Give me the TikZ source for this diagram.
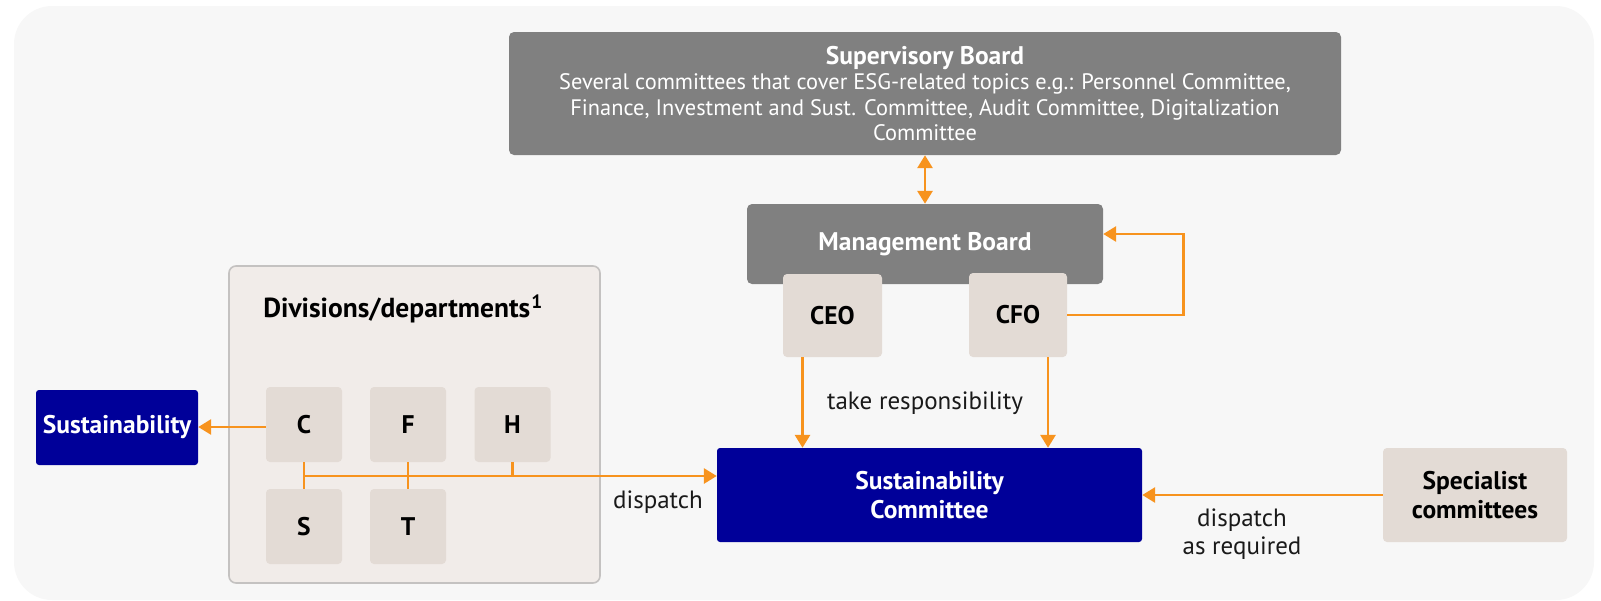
\documentclass[tikz,border=0pt]{standalone}
\usepackage{fontspec}
\setmainfont{PT Sans}
\usepackage{xcolor}
\usepackage{tikz}
\usetikzlibrary{arrows.meta,positioning}
\definecolor{bgGray}{HTML}{F7F7F7}
\definecolor{boardGray}{HTML}{808080}
\definecolor{roleBeige}{HTML}{E3DBD5}
\definecolor{divFill}{HTML}{F1ECE9}
\definecolor{divLine}{HTML}{C4C2C1}
\definecolor{sustNavy}{HTML}{000099}
\definecolor{arrOrange}{HTML}{F7931E}
\definecolor{txtDark}{HTML}{1A1A1A}
\newcommand{\boldfont}{\fontsize{25.5}{28.5}\selectfont\bfseries}

\begin{document}
\begin{tikzpicture}[x=1pt, y=-1pt, font=\fontsize{25}{28.5}\selectfont, text=txtDark, >={Triangle[length=13pt,width=15pt]},
  board/.style={rectangle,rounded corners=5pt,fill=boardGray,text=white,inner sep=0pt,align=center},
  role/.style={rectangle,rounded corners=4pt,fill=roleBeige,text=black,inner sep=0pt,align=center,font=\boldfont},
  navy/.style={rectangle,rounded corners=3pt,fill=sustNavy,text=white,inner sep=0pt,align=center,font=\boldfont},
  link/.style={arrOrange,line width=2.9pt},
  lbl/.style={inner sep=0pt,align=center}]
\useasboundingbox (0,0) rectangle (1601,600);
\fill[bgGray,rounded corners=38pt] (14,6) rectangle (1594,600);
% --- boards ---
\node[board,minimum width=832pt,minimum height=123pt,font=\fontsize{22.4}{25.5}\selectfont] (sup) at (925,93.5)
  {{\boldfont Supervisory Board}\\
   Several committees that cover ESG-related topics e.g.: Personnel Committee,\\
   Finance, Investment and Sust. Committee, Audit Committee, Digitalization\\
   Committee};
\node[board,minimum width=356pt,minimum height=80pt,font=\boldfont] (mgmt) at (925,244) {Management Board};
\node[role,minimum width=99pt,minimum height=83pt] (ceo) at (832.5,315.5) {CEO};
\node[role,minimum width=98pt,minimum height=84pt] (cfo) at (1018,315) {CFO};
% --- committees ---
\node[navy,minimum width=425pt,minimum height=94pt] (sc) at (929.5,495) {Sustainability\\Committee};
\node[role,minimum width=184pt,minimum height=94pt] (spec) at (1475,495) {Specialist\\committees};
% --- divisions ---
\node[rectangle,rounded corners=7pt,draw=divLine,line width=1.6pt,fill=divFill,minimum width=371pt,minimum height=317pt] (div) at (414.5,424.5) {};
\node[lbl,font=\fontsize{27.5}{30}\selectfont\bfseries,text=black] (divtitle) at (403,309) {Divisions/departments\kern1pt\textsuperscript{1}};
\node[role,minimum width=76pt,minimum height=75pt] (C) at (304,424.5) {C};
\node[role,minimum width=76pt,minimum height=75pt] (F) at (408,424.5) {F};
\node[role,minimum width=76pt,minimum height=75pt] (H) at (512.5,424.5) {H};
\node[role,minimum width=76pt,minimum height=75pt] (S) at (304,526.5) {S};
\node[role,minimum width=76pt,minimum height=75pt] (T) at (408,526.5) {T};
\node[navy,minimum width=162pt,minimum height=75pt] (sust) at (117,427.5) {Sustainability};
% --- connectors ---
\draw[link,<->] (sup) -- (mgmt);
\draw[link,->] ([xshift=-30pt]ceo.south) -- ([xshift=-30pt]ceo.south |- sc.north);
\draw[link,->] ([xshift=30pt]cfo.south) -- ([xshift=30pt]cfo.south |- sc.north);
\draw[link,->] (cfo.east) -- ++(116,0) |- ([yshift=10pt]mgmt.east);
\draw[link,->] ([yshift=-2.5pt]C.west) -- ([yshift=-2.5pt]C.west -| sust.east);
\coordinate (bus) at (304,476);
\draw[link] (C) -- (S);
\draw[link] (F) -- (T);
\draw[link] (H.south) -- (H.south |- bus);
\draw[link,->] (bus) -- (bus -| sc.west);
\draw[link,->] (spec) -- (sc);
% --- labels ---
\node[lbl] (resp) at (925,403) {take responsibility};
\node[lbl] (disp) at (658,502) {dispatch};
\node[lbl] (dispreq) at (1242,534) {dispatch\\as required};
\end{tikzpicture}
\end{document}
